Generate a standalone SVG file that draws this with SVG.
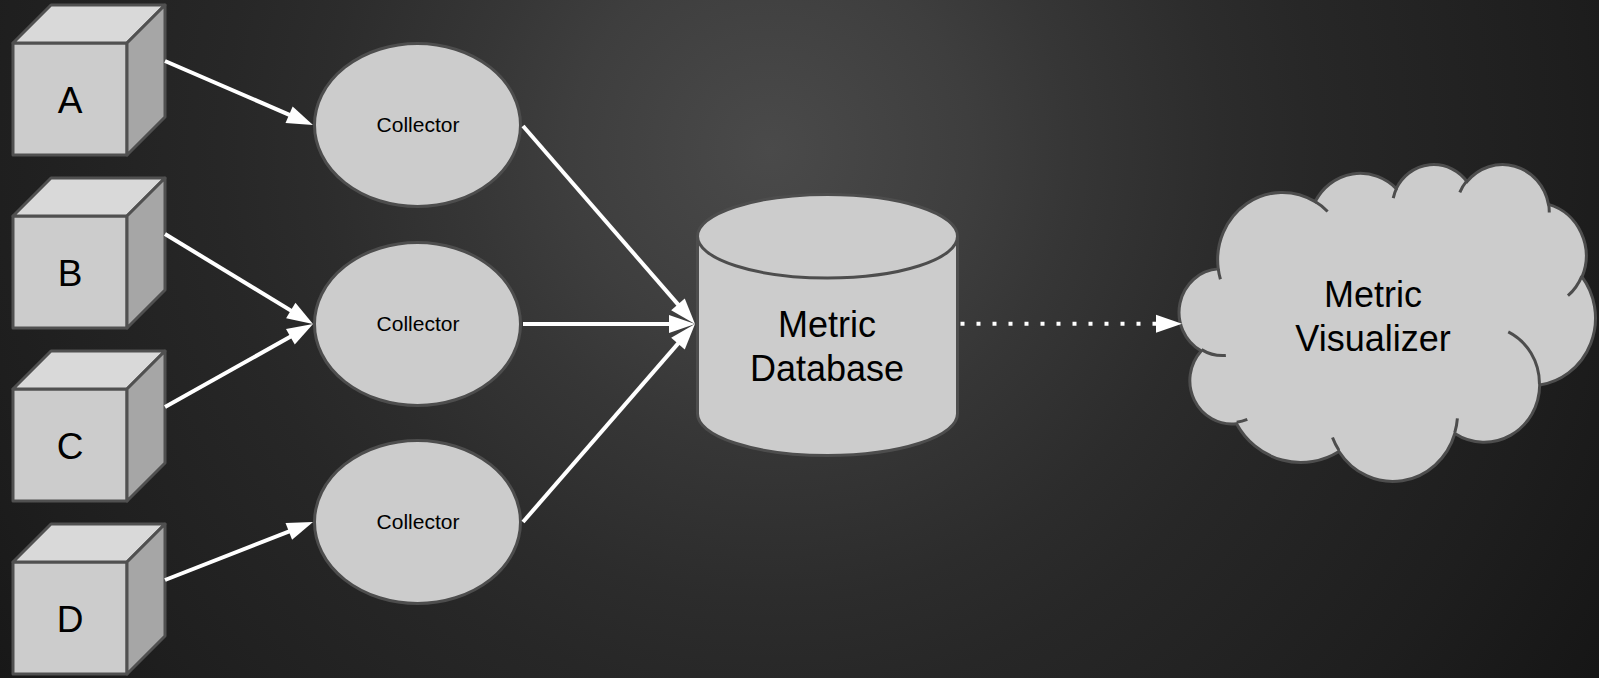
<svg xmlns="http://www.w3.org/2000/svg" width="1599" height="678" viewBox="0 0 1599 678">
  <defs>
    <radialGradient id="bg" gradientUnits="userSpaceOnUse" cx="770" cy="150" r="1000">
      <stop offset="0" stop-color="#4a4a4a"/>
      <stop offset="0.2" stop-color="#3e3e3e"/>
      <stop offset="0.3" stop-color="#363636"/>
      <stop offset="0.45" stop-color="#2c2c2c"/>
      <stop offset="0.55" stop-color="#272727"/>
      <stop offset="0.8" stop-color="#1e1e1e"/>
      <stop offset="1" stop-color="#151515"/>
    </radialGradient>
    <!-- arrowhead: tip sits 20px beyond the line end -->
    <marker id="arrow" markerUnits="userSpaceOnUse" markerWidth="26" markerHeight="18" refX="6" refY="9" orient="auto" overflow="visible">
      <path d="M0,0 L26,9 L0,18 Z" fill="#ffffff"/>
    </marker>
    <g id="cube">
      <rect class="front" x="13" y="43" width="114" height="112"/>
      <polygon class="top" points="13,43 51,5 165,5 127,43"/>
      <polygon class="side" points="127,43 165,5 165,117 127,155"/>
    </g>
  </defs>
  <style>
    .front { fill: #cccccc; stroke: #505050; stroke-width: 3; stroke-linejoin: round; }
    .top { fill: #d9d9d9; stroke: #505050; stroke-width: 3; stroke-linejoin: round; }
    .side { fill: #a6a6a6; stroke: #505050; stroke-width: 3; stroke-linejoin: round; }
    .shape { fill: #cccccc; stroke: #4d4d4d; stroke-width: 3; }
    .seam { fill: none; stroke: #4d4d4d; stroke-width: 3; }
    .label { font-family: "Liberation Sans", Arial, sans-serif; fill: #000000; text-anchor: middle; }
    .big { font-size: 37px; }
    .mid { font-size: 36px; }
    .small { font-size: 21px; }
    .conn { stroke: #ffffff; stroke-width: 4; fill: none; marker-end: url(#arrow); }
    .dotted { stroke-dasharray: 4 12; }
  </style>

  <rect x="0" y="0" width="1599" height="678" fill="url(#bg)"/>

  <!-- sources -->
  <g id="node-a">
    <use href="#cube"/>
    <text class="label big" x="70" y="113">A</text>
  </g>
  <g id="node-b" transform="translate(0,173)">
    <use href="#cube"/>
    <text class="label big" x="70" y="113">B</text>
  </g>
  <g id="node-c" transform="translate(0,346)">
    <use href="#cube"/>
    <text class="label big" x="70" y="113">C</text>
  </g>
  <g id="node-d" transform="translate(0,519)">
    <use href="#cube"/>
    <text class="label big" x="70" y="113">D</text>
  </g>

  <!-- collectors -->
  <g id="collector-1">
    <ellipse class="shape" cx="417.5" cy="125" rx="103" ry="81.5"/>
    <text class="label small" x="418" y="132">Collector</text>
  </g>
  <g id="collector-2">
    <ellipse class="shape" cx="417.5" cy="324" rx="103" ry="81.5"/>
    <text class="label small" x="418" y="331">Collector</text>
  </g>
  <g id="collector-3">
    <ellipse class="shape" cx="417.5" cy="522" rx="103" ry="81.5"/>
    <text class="label small" x="418" y="529">Collector</text>
  </g>

  <!-- database -->
  <g id="metric-database">
    <path class="shape" d="M697.5,236.25 A130,41.75 0 0 1 957.5,236.25 L957.5,413.75 A130,41.75 0 0 1 697.5,413.75 Z"/>
    <path class="seam" d="M697.5,236.25 A130,41.75 0 0 0 957.5,236.25"/>
    <text class="label mid" x="827" y="337">Metric</text>
    <text class="label mid" x="827" y="381">Database</text>
  </g>

  <!-- visualizer cloud -->
  <g id="metric-visualizer">
    <g transform="translate(1180.83,163.47) scale(0.009594,0.007335)">
      <path class="shape" vector-effect="non-scaling-stroke" d="M3900,14370 A6753,9190 0 0 1 14006,5203 A5333,7267 0 0 1 22456,3432 A4365,5945 0 0 1 29833,2481 A4857,6595 0 0 1 38319,5576 A5333,7273 0 0 1 41819,15460 A6775,9220 0 0 1 37405,30204 A5785,7867 0 0 1 28558,36815 A6752,9215 0 0 1 16483,39267 A7720,10543 0 0 1 5806,35472 A4360,5918 0 0 1 2115,25551 A4345,5945 0 0 1 3900,14370 Z"/>
      <path class="seam" vector-effect="non-scaling-stroke" d="M4693,26177 A4345,5945 0 0 1 2160,25380 M6928,34899 A4360,5918 0 0 1 5820,35281 M16478,39090 A6752,9215 0 0 1 15809,37347 M28827,34751 A6752,9215 0 0 1 28560,36661 M34129,22954 A5785,7867 0 0 1 37381,30090 M41798,15354 A5333,7273 0 0 1 40349,18032 M38324,5426 A4857,6595 0 0 1 38400,6690 M29078,3952 A4857,6595 0 0 1 29820,2340 M22141,4720 A4365,5945 0 0 1 22505,3317 M14000,5192 A6753,9190 0 0 1 15299,6540 M4127,15789 A6753,9190 0 0 1 3901,14371"/>
    </g>
    <text class="label mid" x="1373" y="307">Metric</text>
    <text class="label mid" x="1373" y="351">Visualizer</text>
  </g>

  <!-- connectors -->
  <g id="connectors">
    <line class="conn" x1="165" y1="61" x2="294.6" y2="117.1"/>
    <line class="conn" x1="165" y1="234" x2="295.9" y2="313.6"/>
    <line class="conn" x1="165" y1="407" x2="295.6" y2="333.8"/>
    <line class="conn" x1="165" y1="580" x2="294.4" y2="529.3"/>
    <line class="conn" x1="523" y1="126" x2="681.9" y2="308.9"/>
    <line class="conn" x1="523" y1="324" x2="675" y2="324"/>
    <line class="conn" x1="523" y1="522" x2="681.9" y2="339.1"/>
    <line class="conn dotted" x1="960.5" y1="323.7" x2="1162" y2="323.7"/>
  </g>
</svg>
